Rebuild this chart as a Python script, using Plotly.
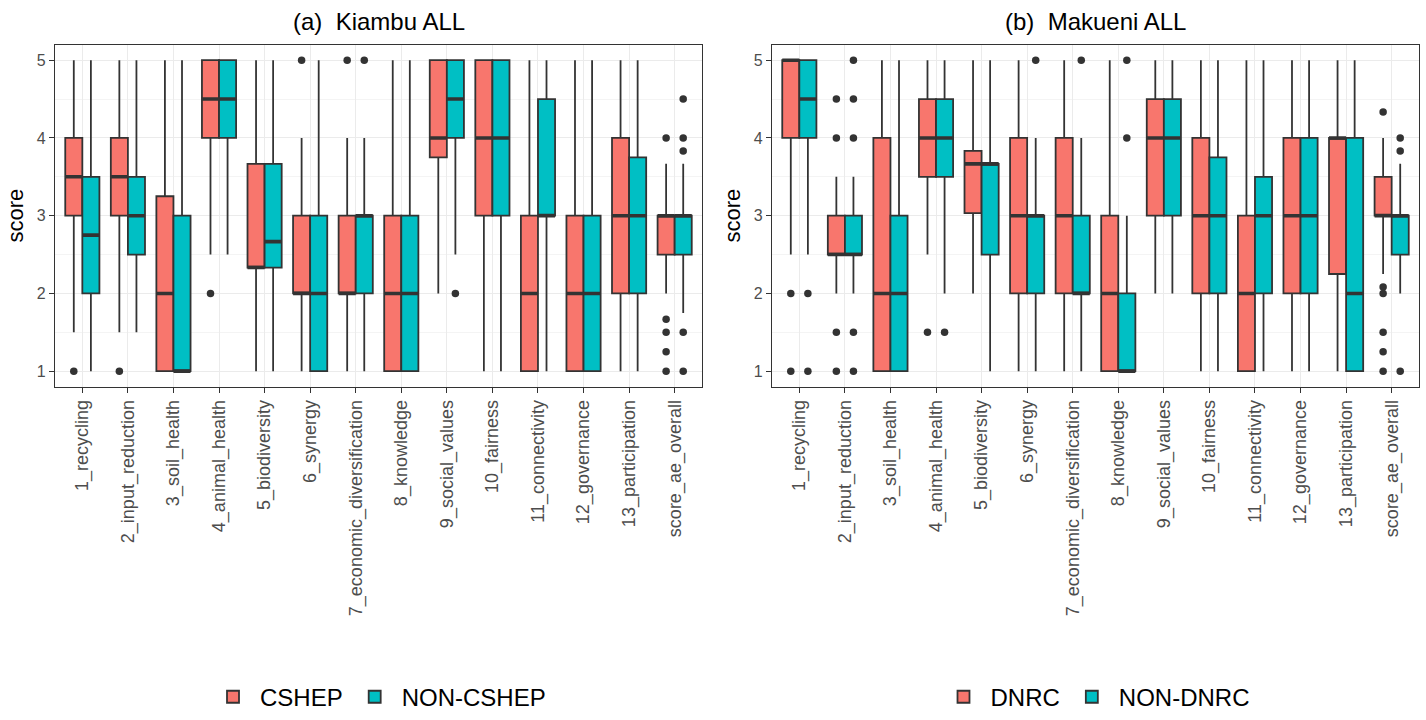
import plotly.graph_objects as go

categories = ["1_recycling", "2_input_reduction", "3_soil_health", "4_animal_health",
              "5_biodiversity", "6_synergy", "7_economic_diversification", "8_knowledge",
              "9_social_values", "10_fairness", "11_connectivity", "12_governance",
              "13_participation", "score_ae_overall"]

# Panel (a) Kiambu
kia_cshep_q1 = [3, 3, 1, 4, 2.333, 2, 2, 1, 3.75, 3, 1, 1, 2, 2.5]
kia_cshep_med = [3.5, 3.5, 2, 4.5, 2.333, 2, 2, 2, 4, 4, 2, 2, 3, 3]
kia_cshep_q3 = [4, 4, 3.25, 5, 3.667, 3, 3, 3, 5, 5, 3, 3, 4, 3]
kia_cshep_lo = [1.5, 1.5, 1, 2.5, 1, 1, 1, 1, 2, 1, 1, 1, 1, 2]
kia_cshep_hi = [5, 5, 5, 5, 5, 4, 4, 5, 5, 5, 5, 5, 5, 3.667]
kia_cshep_out = [[1], [1], [], [2], [], [5], [5], [], [], [], [], [], [], [4, 1.667, 1.5, 1.25, 1]]

kia_non_q1 = [2, 2.5, 1, 4, 2.333, 1, 2, 1, 4, 3, 3, 1, 2, 2.5]
kia_non_med = [2.75, 3, 1, 4.5, 2.667, 2, 3, 2, 4.5, 4, 3, 2, 3, 3]
kia_non_q3 = [3.5, 3.5, 3, 5, 3.667, 3, 3, 3, 5, 5, 4.5, 3, 3.75, 3]
kia_non_lo = [1, 1.5, 1, 2.5, 1, 1, 1, 1, 2.5, 1, 1, 1, 1, 1.75]
kia_non_hi = [5, 5, 5, 5, 5, 5, 4, 5, 5, 5, 5, 5, 5, 3.667]
kia_non_out = [[], [], [], [], [], [], [5], [], [2], [], [], [], [], [4.5, 4, 3.833, 1.5, 1]]

# Panel (b) Makueni
mak_dnrc_q1 = [4, 2.5, 1, 3.5, 3.033, 2, 2, 1, 3, 2, 1, 2, 2.25, 3]
mak_dnrc_med = [5, 2.5, 2, 4, 3.667, 3, 3, 2, 4, 3, 2, 3, 4, 3]
mak_dnrc_q3 = [5, 3, 4, 4.5, 3.833, 4, 4, 3, 4.5, 4, 3, 4, 4, 3.5]
mak_dnrc_lo = [2.5, 2, 1, 2.5, 2, 1, 1, 1, 2, 1, 1, 1, 1, 2.25]
mak_dnrc_hi = [5, 3.5, 5, 5, 5, 5, 5, 5, 5, 5, 5, 5, 5, 4]
mak_dnrc_out = [[2, 1], [4.5, 4, 1.5, 1], [], [1.5], [], [], [], [], [], [], [], [], [],
                [4.333, 2.083, 2, 1.5, 1.25, 1]]

mak_non_q1 = [4, 2.5, 1, 3.5, 2.5, 2, 2, 1, 3, 2, 2, 2, 1, 2.5]
mak_non_med = [4.5, 2.5, 2, 4, 3.667, 3, 2, 1, 4, 3, 3, 3, 2, 3]
mak_non_q3 = [5, 3, 3, 4.5, 3.667, 3, 3, 2, 4.5, 3.75, 3.5, 4, 4, 3]
mak_non_lo = [2.5, 2, 1, 2, 1, 1, 1, 1, 2, 1, 1, 1, 1, 2]
mak_non_hi = [5, 3.5, 5, 5, 5, 4, 4, 3, 5, 5, 5, 5, 5, 3.667]
mak_non_out = [[2, 1], [5, 4.5, 4, 1.5, 1], [], [1.5], [], [5], [5], [5, 4], [], [], [], [], [],
               [4, 3.833, 1]]

y_ticks = [1, 2, 3, 4, 5]

RED = "#F8766D"
TEAL = "#00BFC4"
EDGE = "#333333"
BW = 0.375  # each box width (dodge 0.75 / 2)

fig = go.Figure()


def add_series(name, color, q1, med, q3, lo, hi, outs, shift, xa, ya, legend):
    pos = [i + shift for i in range(len(categories))]
    fig.add_trace(go.Box(
        name=name, x=pos, q1=q1, median=med, q3=q3, lowerfence=lo, upperfence=hi,
        width=BW, fillcolor=color, line=dict(color=EDGE, width=1.8),
        whiskerwidth=0, boxpoints=False, xaxis=xa, yaxis=ya, legend=legend,
        showlegend=True, hoverinfo="skip"))
    # thicker median line as in ggplot
    mx, my = [], []
    for p, m in zip(pos, med):
        mx += [p - BW / 2, p + BW / 2, None]
        my += [m, m, None]
    fig.add_trace(go.Scatter(x=mx, y=my, mode="lines", line=dict(color=EDGE, width=3.6),
                             xaxis=xa, yaxis=ya, showlegend=False, hoverinfo="skip"))
    ox, oy = [], []
    for p, vals in zip(pos, outs):
        for v in vals:
            ox.append(p)
            oy.append(v)
    fig.add_trace(go.Scatter(x=ox, y=oy, mode="markers",
                             marker=dict(color=EDGE, size=7.5, line=dict(width=0)),
                             xaxis=xa, yaxis=ya, showlegend=False, hoverinfo="skip"))


add_series("CSHEP", RED, kia_cshep_q1, kia_cshep_med, kia_cshep_q3, kia_cshep_lo, kia_cshep_hi,
           kia_cshep_out, -BW / 2, "x", "y", "legend")
add_series("NON-CSHEP", TEAL, kia_non_q1, kia_non_med, kia_non_q3, kia_non_lo, kia_non_hi,
           kia_non_out, BW / 2, "x", "y", "legend")
add_series("DNRC", RED, mak_dnrc_q1, mak_dnrc_med, mak_dnrc_q3, mak_dnrc_lo, mak_dnrc_hi,
           mak_dnrc_out, -BW / 2, "x2", "y2", "legend2")
add_series("NON-DNRC", TEAL, mak_non_q1, mak_non_med, mak_non_q3, mak_non_lo, mak_non_hi,
           mak_non_out, BW / 2, "x2", "y2", "legend2")

W, H = 1426, 720
FONT = "Liberation Sans, Arial, sans-serif"

xdom1 = [55 / W, 702 / W]
xdom2 = [772 / W, 1419 / W]
ydom = [1 - 390 / H, 1 - 45 / H]

xaxis_common = dict(
    tickmode="array", tickvals=list(range(len(categories))), ticktext=categories,
    range=[-0.6, len(categories) - 1 + 0.6], tickangle=-90,
    tickfont=dict(family=FONT, size=18, color="#4D4D4D"),
    ticks="outside", ticklen=5, tickcolor=EDGE, tickwidth=1.2,
    showgrid=True, gridcolor="#EBEBEB", gridwidth=1.2,
    showline=True, linecolor=EDGE, linewidth=1.2, mirror=True, zeroline=False,
)
yaxis_common = dict(
    tickmode="array", tickvals=y_ticks, range=[0.8, 5.2],
    tickfont=dict(family=FONT, size=16, color="#4D4D4D"),
    ticks="outside", ticklen=5, tickcolor=EDGE, tickwidth=1.2,
    showgrid=True, gridcolor="#EBEBEB", gridwidth=1.2,
    minor=dict(tickvals=[1.5, 2.5, 3.5, 4.5], showgrid=True, gridcolor="#F4F4F4", gridwidth=0.8,
               ticks=""),
    showline=True, linecolor=EDGE, linewidth=1.2, mirror=True, zeroline=False,
    title=dict(text="score", font=dict(family=FONT, size=22, color="#000000"), standoff=7),
)

legend_common = dict(orientation="h", xanchor="center", y=1 - 703 / H, yanchor="middle",
                     font=dict(family=FONT, size=24, color="#000000"),
                     itemwidth=44, bgcolor="rgba(0,0,0,0)")

fig.update_layout(
    width=W, height=H,
    margin=dict(l=0, r=0, t=0, b=0),
    paper_bgcolor="white", plot_bgcolor="white",
    font=dict(family=FONT),
    xaxis=dict(domain=xdom1, anchor="y", **xaxis_common),
    yaxis=dict(domain=ydom, anchor="x", **yaxis_common),
    xaxis2=dict(domain=xdom2, anchor="y2", **xaxis_common),
    yaxis2=dict(domain=ydom, anchor="x2", **yaxis_common),
    showlegend=True,
    legend=dict(x=sum(xdom1) / 2, **legend_common),
    legend2=dict(x=sum(xdom2) / 2, **legend_common),
    annotations=[
        dict(text="(a)  Kiambu ALL", x=sum(xdom1) / 2, y=1 - 22 / H, xref="paper", yref="paper",
             showarrow=False, xanchor="center", yanchor="middle",
             font=dict(family=FONT, size=24, color="#000000")),
        dict(text="(b)  Makueni ALL", x=sum(xdom2) / 2, y=1 - 22 / H, xref="paper", yref="paper",
             showarrow=False, xanchor="center", yanchor="middle",
             font=dict(family=FONT, size=24, color="#000000")),
    ],
)

fig.write_html("out.html")
